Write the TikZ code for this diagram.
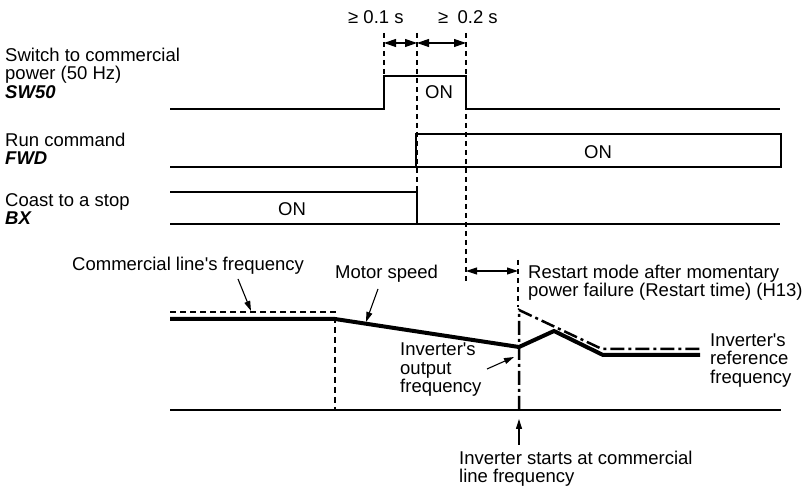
\documentclass[tikz,border=0pt]{standalone}
\usepackage{fontspec}
\setmainfont{Liberation Sans}
\usetikzlibrary{arrows.meta}
\begin{document}
\begin{tikzpicture}[x=1pt,y=-1pt,
  every node/.style={inner sep=0pt, font=\fontsize{18.5}{18.3}\selectfont},
  lbl/.style={align=left, anchor=north west},
  sig/.style={line width=1.1pt, line join=miter},
  guide/.style={line width=1.1pt, dash pattern=on 5pt off 4pt},
  dim/.style={{Triangle[length=12pt,width=8pt]}-{Triangle[length=12pt,width=8pt]}, line width=1.1pt},
  dimsmall/.style={{Triangle[length=11pt,width=7pt]}-{Triangle[length=11pt,width=7pt]}, line width=1.1pt},
  ptr/.style={-{Triangle[length=10pt,width=6pt]}, line width=1.1pt},
  motor/.style={line width=4pt, line join=miter},
  comm/.style={line width=2.5pt, dash pattern=on 6pt off 4pt},
  ref/.style={line width=2.5pt, dash pattern=on 14pt off 4pt on 3pt off 4pt}]
\useasboundingbox (0,0) rectangle (807,486);

% time labels
\node[anchor=base west] (t1) at (348,24) {≥ 0.1 s};
\node[anchor=base west] (t2) at (438,24) {≥\enspace 0.2 s};

% signal labels
\node[lbl] (sw) at (5,48) {Switch to commercial\\power (50 Hz)\\\textbf{\textit{SW50}}};
\node[lbl] (run) at (5,132.5) {Run command\\\textbf{\textit{FWD}}};
\node[lbl] (cst) at (5,193) {Coast to a stop\\\textbf{\textit{BX}}};

% guide coordinates
\coordinate (a0) at (384,33);
\coordinate (b0) at (417,33);
\coordinate (c0) at (466,33);
\coordinate (a1) at (384,76);
\coordinate (b1) at (417,224);
\coordinate (c1) at (466,283);
\coordinate (d0) at (518,260);
\coordinate (d1) at (518,307);

\draw[guide] (a0) -- (a1);
\draw[guide] (b0) -- (b1);
\draw[guide] (c0) -- (c1);
\draw[guide] (d0) -- (d1);

\coordinate (ta) at (384,43);
\coordinate (tb) at (417,43);
\coordinate (tc) at (466,43);
\draw[dim] (ta) -- (tb);
\draw[dim] (tb) -- (tc);

% SW50
\draw[sig] (170,109) -- (384,109) -- (384,76) -- (466,76) -- (466,109) -- (780,109);
\node[anchor=base] (on1) at (439,99) {ON};
% FWD
\draw[sig] (170,167) -- (781,167) -- (781,134) -- (416,134) -- (416,167);
\node[anchor=base] (on2) at (598,159) {ON};
% BX
\draw[sig] (170,224) -- (780,224);
\draw[sig] (170,192) -- (417,192) -- (417,224);
\node[anchor=base] (on3) at (292,216) {ON};

% restart time arrow
\coordinate (ra) at (466,271);
\coordinate (rb) at (518,271);
\draw[dimsmall] (ra) -- (rb);
\node[lbl] (rst) at (528,264.5) {Restart mode after momentary\\power failure (Restart time) (H13)};

% lower chart
\draw[line width=1.4pt] (170,410) -- (781,410);
\draw[comm] (170,312) -- (335,312) -- (335,410);
\draw[motor] (170,319) -- (335,319) -- (519,347) -- (554,331) -- (603,355) -- (700,355);
\draw[ref] (519,410) -- (519,310) -- (602,349) -- (700,349);

% labels and pointers
\node[anchor=base west] (cl) at (72,271) {Commercial line\textquotesingle s frequency};
\coordinate (clp) at (238,279);
\coordinate (clt) at (251,311);
\draw[ptr] (clp) -- (clt);

\node[anchor=base west] (ms) at (335,279) {Motor speed};
\coordinate (msp) at (378,289);
\coordinate (mst) at (366,322);
\draw[ptr] (msp) -- (mst);

\node[lbl] (iof) at (400,343) {Inverter\textquotesingle s\\output\\frequency};
\coordinate (iop) at (487,369);
\coordinate (iot) at (514,357);
\draw[ptr] (iop) -- (iot);

\node[lbl] (irf) at (710,333.5) {Inverter\textquotesingle s\\reference\\frequency};

\coordinate (up0) at (519,445);
\coordinate (up1) at (519,419);
\draw[ptr] (up0) -- (up1);
\node[lbl] (isc) at (459,450.5) {Inverter starts at commercial\\line frequency};
\end{tikzpicture}
\end{document}
